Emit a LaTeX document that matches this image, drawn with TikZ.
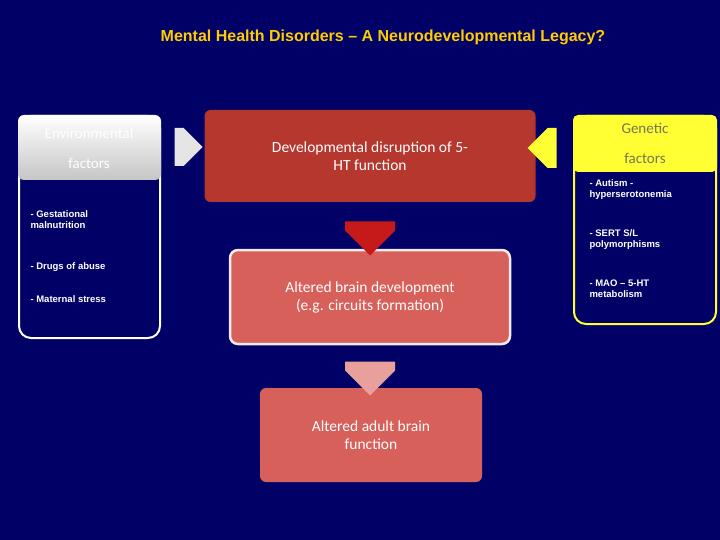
\documentclass[tikz,border=0pt]{standalone}
\usepackage{fontspec}
\setmainfont{Liberation Sans}
\newfontfamily\calfnt{Carlito}
\usetikzlibrary{shapes.arrows}
\definecolor{navy}{HTML}{000066}
\definecolor{ttl}{HTML}{FFCC00}
\definecolor{redA}{HTML}{B5372E}
\definecolor{redB}{HTML}{D8605A}
\definecolor{yel}{HTML}{FFFF33}
\tikzset{
  bul/.style={text=white,font=\bfseries\fontsize{9.5}{11}\selectfont,align=left,anchor=north west},
  boxtxt/.style={text=white,font=\calfnt\fontsize{15.5}{18}\selectfont,align=center},
  arr/.style={single arrow,minimum width=38pt,single arrow head extend=0pt,inner sep=0pt}
}
\begin{document}
\begin{tikzpicture}[x=1pt,y=-1pt]
\fill[navy] (0,0) rectangle (720,540);
\useasboundingbox (0,0) rectangle (720,540);
\node[text=ttl,font=\bfseries\fontsize{16}{18}\selectfont] (title) at (383,37) {Mental Health Disorders -- A Neurodevelopmental Legacy?};
% left box
\draw[white,line width=2pt,rounded corners=12pt] (19,116) rectangle (160,338);
\shade[top color=white,bottom color=gray!45,rounded corners=6pt] (18,115) rectangle (161,180);
\node[text=white,font=\calfnt\fontsize{15}{30}\selectfont,align=center] (env) at (89,148) {Environmental\\factors};
\node[bul] (b1) at (27,207) {- Gestational\\malnutrition};
\node[bul] (b2) at (27,259) {- Drugs of abuse};
\node[bul] (b3) at (27,292) {- Maternal stress};
% right box
\draw[yel,line width=2pt,rounded corners=12pt] (574,116) rectangle (716,324);
\fill[yel,rounded corners=5pt] (573,115) rectangle (717,172);
\node[text=black!60!yel!40!gray,font=\calfnt\fontsize{15}{30}\selectfont,align=center] (gen) at (645,143) {Genetic\\factors};
\node[bul] (g1) at (586,176) {- Autism -\\hyperserotonemia};
\node[bul] (g2) at (586,226) {- SERT S/L\\polymorphisms};
\node[bul] (g3) at (586,276) {- MAO -- 5-HT\\metabolism};
% center boxes
\node[fill=redA,rounded corners=6pt,minimum width=331pt,minimum height=92pt,boxtxt] (d1) at (370,156) {Developmental disruption of 5-\\HT function};
\node[draw=white!85!gray,line width=2.5pt,fill=redB,rounded corners=8pt,minimum width=280pt,minimum height=94pt,boxtxt] (d2) at (370,297) {Altered brain development\\(e.g. circuits formation)};
\node[fill=redB,rounded corners=6pt,minimum width=222pt,minimum height=94pt,boxtxt] (d3) at (371,435) {Altered adult brain\\function};
% arrows
\node[arr,fill=white!80!gray,minimum height=28pt,minimum width=38pt] (a1) at (179,147) {};
\node[arr,fill=yel,shape border rotate=180,minimum height=29pt,minimum width=40pt] (a2) at (552,148) {};
\node[arr,fill=red!75!black!90,shape border rotate=270,minimum height=34pt,minimum width=50pt] (a3) at (370,226) {};
\node[arr,fill=redB!60!white,shape border rotate=270,minimum height=34pt,minimum width=50pt] (a4) at (370,366) {};
\end{tikzpicture}
\end{document}
